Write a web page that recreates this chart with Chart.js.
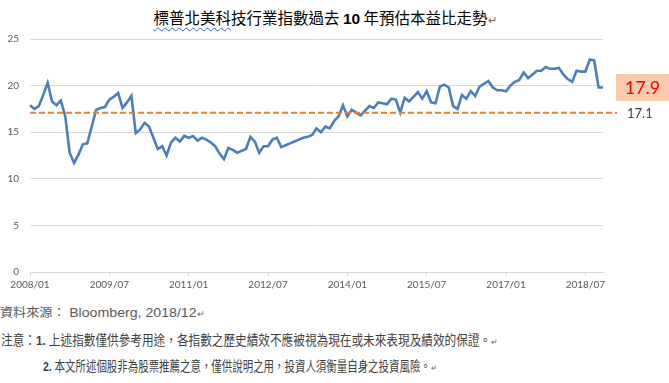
<!DOCTYPE html>
<html>
<head>
<meta charset="utf-8">
<script src="https://cdn.jsdelivr.net/npm/chart.js@4.4.1/dist/chart.umd.min.js"></script>
<style>
html,body{margin:0;padding:0;background:#fff;width:669px;height:383px;overflow:hidden;}
#wrap{position:absolute;left:0;top:0;width:669px;height:300px;}
.t{position:absolute;white-space:nowrap;line-height:20px;font-family:"Liberation Sans","Noto Sans CJK TC",sans-serif;transform-origin:0 50%;}
.ret{font-size:0.7em;color:#666;}
#title{left:0;width:650px;text-align:center;top:7px;font-size:15.5px;color:#000;font-family:"Noto Sans CJK TC",sans-serif;}
.wavy{text-decoration:underline wavy #3b5bdb;text-decoration-thickness:1px;text-underline-offset:3px;}
</style>
</head>
<body>
<div class="t" id="title"><span class="wavy">標普北美科</span>技行業指數過去 <b style="font-family:'Liberation Sans',sans-serif;">10</b> 年預估本益比走勢<span class="ret">↵</span></div>
<div id="wrap"><canvas id="c" width="669" height="300"></canvas></div>
<div class="t fit" data-w="205" style="left:0;top:303px;font-size:12.5px;color:#595959;">資料來源： <span style="font-size:13.5px;">Bloomberg, 2018/12</span><span class="ret">↵</span></div>
<div class="t fit" data-w="497" style="left:1px;top:331px;font-size:13.5px;color:#404040;">注意：<b>1.</b> 上述指數僅供參考用途，各指數之歷史績效不應被視為現在或未來表現及績效的保證。<span class="ret">↵</span></div>
<div class="t fit" data-w="394" style="left:43px;top:357px;font-size:13.5px;color:#404040;"><b>2.</b> 本文所述個股非為股票推薦之意，僅供說明之用，投資人須衡量自身之投資風險。<span class="ret">↵</span></div>
<script>
// ---- data ----
const START_YEAR = 2008;
const MONTH_COUNT = 131; // 2008/01 .. 2018/11
const MONTHS = [];
for (let i = 0; i < MONTH_COUNT; i++) {
  const y = START_YEAR + Math.floor(i / 12);
  const m = (i % 12) + 1;
  MONTHS.push(y + '/' + (m < 10 ? '0' + m : m));
}
const X_TICK_LABELS = ['2008/01','2009/07','2011/01','2012/07','2014/01','2015/07','2017/01','2018/07'];
const Y_TICKS = [0, 5, 10, 15, 20, 25];
const FORWARD_PE = [
  17.9,17.5,17.8,19.0,20.3,18.3,17.9,18.4,16.7,12.8,
  11.7,12.6,13.7,13.8,15.6,17.4,17.6,17.7,18.5,18.8,
  19.2,17.6,18.2,18.9,14.9,15.3,16.0,15.6,14.4,13.2,
  13.5,12.5,13.9,14.4,14.0,14.6,14.4,14.6,14.1,14.4,
  14.2,13.9,13.5,12.7,12.1,13.3,13.1,12.8,13.0,13.2,
  14.5,14.0,12.8,13.5,13.5,14.2,14.4,13.4,13.6,13.8,
  14.0,14.2,14.4,14.5,14.7,15.4,15.0,15.6,15.4,16.2,
  16.7,17.9,16.7,17.4,17.1,16.8,17.3,17.8,17.6,18.2,
  18.1,18.0,18.6,18.5,17.1,18.7,18.3,18.8,19.3,18.6,
  19.4,18.2,18.1,19.9,20.1,19.8,17.8,17.5,19.0,18.6,
  19.4,18.9,19.9,20.2,20.5,19.8,19.5,19.5,19.4,20.0,
  20.4,20.6,21.4,20.8,21.2,21.6,21.6,22.0,21.8,21.8,
  21.9,21.2,20.7,20.4,21.6,21.5,21.5,22.8,22.7,19.8,
  19.8
];
const AVERAGE_PE = 17.1;
const LATEST_LABEL = 17.9;

// fit footnote lines to the reference widths
document.querySelectorAll('.fit').forEach(el => {
  const w = el.getBoundingClientRect().width;
  const target = parseFloat(el.dataset.w);
  el.style.transform = 'scaleX(' + (target / w) + ')';
});

const annotatePlugin = {
  id: 'annotate',
  afterDatasetsDraw(chart) {
    const {ctx, chartArea, scales} = chart;
    const x = scales.x, y = scales.y;
    const yy = y.getPixelForValue(AVERAGE_PE);
    ctx.save();
    ctx.strokeStyle = '#ED7D31';
    ctx.lineWidth = 2;
    ctx.setLineDash([6, 3]);
    ctx.beginPath();
    ctx.moveTo(x.getPixelForValue(0), yy);
    ctx.lineTo(chartArea.right + 14, yy);
    ctx.stroke();
    ctx.setLineDash([]);
    ctx.fillStyle = '#404040';
    ctx.font = '13px Lato';
    ctx.textAlign = 'left';
    ctx.textBaseline = 'middle';
    ctx.fillText(AVERAGE_PE.toFixed(1), chartArea.right + 24, yy + 1);
    const last = FORWARD_PE.length - 1;
    const ly = y.getPixelForValue(FORWARD_PE[last]);
    const bx = chartArea.right + 13;
    ctx.fillStyle = '#F8CBAD';
    ctx.fillRect(bx, ly - 13.5, 669 - bx, 27);
    ctx.fillStyle = '#FF0000';
    ctx.font = '18px Lato';
    ctx.textAlign = 'center';
    ctx.fillText(LATEST_LABEL.toFixed(1), bx + (669 - bx) / 2, ly + 1);
    ctx.restore();
  }
};

new Chart(document.getElementById('c'), {
  type: 'line',
  data: {
    labels: MONTHS,
    datasets: [{
      data: FORWARD_PE,
      borderColor: '#4A7EBF',
      borderWidth: 2.6,
      pointRadius: 0,
      tension: 0,
      fill: false
    }]
  },
  options: {
    responsive: false,
    animation: false,
    devicePixelRatio: 1,
    layout: {padding: {top: 39, right: 66, left: 0, bottom: 0}},
    plugins: {legend: {display: false}, tooltip: {enabled: false}},
    scales: {
      x: {
        type: 'category',
        offset: false,
        grid: {
          drawOnChartArea: false,
          drawTicks: true,
          tickLength: 4,
          color: (c) => X_TICK_LABELS.includes(MONTHS[c.index]) ? '#D9D9D9' : 'rgba(0,0,0,0)'
        },
        border: {display: true, color: '#D9D9D9', width: 1},
        ticks: {
          autoSkip: false, maxRotation: 0, minRotation: 0, padding: 3,
          color: '#595959', font: {family: 'Lato', size: 10},
          callback: (v, i) => X_TICK_LABELS.includes(MONTHS[i]) ? MONTHS[i] : ''
        },
        afterFit: (s) => { s.height = 28; }
      },
      y: {
        min: 0, max: 25,
        afterBuildTicks: (s) => { s.ticks = Y_TICKS.map(v => ({value: v})); },
        ticks: {color: '#595959', font: {family: 'Lato', size: 10}, padding: 11},
        grid: {color: '#D9D9D9', drawTicks: false, lineWidth: 1},
        border: {display: false},
        afterFit: (s) => { s.width = 30; }
      }
    }
  },
  plugins: [annotatePlugin]
});
</script>
</body>
</html>
